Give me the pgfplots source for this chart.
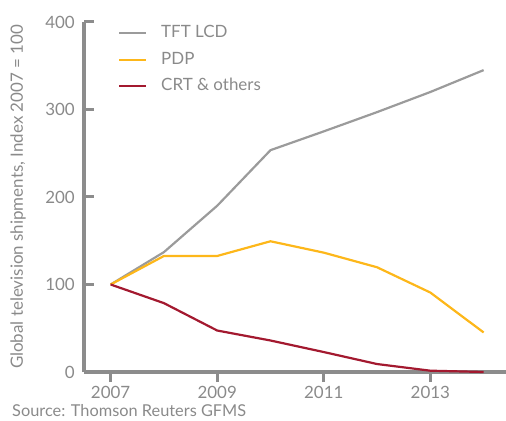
\documentclass[border=0pt]{standalone}
\usepackage{pgfplots}
\pgfplotsset{compat=1.18}
\usepackage{fontspec}
\setmainfont{Lato}

\definecolor{axisgray}{HTML}{8C8C8C}
\definecolor{txtgray}{HTML}{8A8A8A}
\definecolor{tftgray}{HTML}{9B9B9B}
\definecolor{pdpyellow}{HTML}{FDB71A}
\definecolor{crtred}{HTML}{A3192F}

\begin{document}
\fontsize{17}{20}\selectfont
\begin{tikzpicture}
\useasboundingbox (0,0) rectangle (506bp,421bp);
\begin{axis}[
    at={(84bp,49bp)}, anchor=south west,
    scale only axis,
    width=422bp, height=350bp,
    xmin=2006.5, xmax=2014.42,
    ymin=0, ymax=400,
    axis x line=bottom, axis y line=left,
    axis line style={draw=axisgray, line width=3bp, -},
    xtick={2007,2009,2011,2013},
    ytick={0,100,200,300,400},
    /pgf/number format/assume math mode=true,
    tick align=inside,
    major tick length=10bp,
    tick style={draw=axisgray, line width=3bp},
    x tick style={yshift=-10bp},
    ticklabel style={text=txtgray, inner sep=0pt, font=\fontsize{17}{20}\selectfont},
    xticklabel style={/pgf/number format/1000 sep={}, anchor=base, yshift=-26bp},
    yticklabel style={anchor=east, xshift=-9bp},
    ylabel={Global television shipments, Index 2007 = 100},
    ylabel style={at={(axis description cs:-0.156,0.5)}, anchor=center,
                  text=txtgray, font=\fontsize{17}{20}\selectfont},
    legend style={at={(axis description cs:0.0806,0.995)}, anchor=north west,
                  draw=none, fill=none, text=txtgray, inner sep=0pt,
                  font=\fontsize{17}{20}\selectfont,
                  nodes={inner sep=2bp, text height=12bp, text depth=3bp},
                  row sep=7.5bp, column sep=12bp},
    legend cell align=left,
    legend image code/.code={\draw[#1, line width=2bp] (0bp,0bp) -- (27bp,0bp);},
    clip=false,
]

% TFT LCD
\addplot[color=tftgray, line width=2.2bp] coordinates {
    (2007,100) (2008,137) (2009,190) (2010,253.5) (2011,275)
    (2012,297) (2013,320) (2014,345)
};

% PDP
\addplot[color=pdpyellow, line width=2.2bp] coordinates {
    (2007,100) (2008,132.6) (2009,132.6) (2010,149.4) (2011,136.4)
    (2012,119.7) (2013,90.8) (2014,45.2)
};

% CRT & others
\addplot[color=crtred, line width=2.2bp] coordinates {
    (2007,100) (2008,78.7) (2009,47.4) (2010,36) (2011,22.8)
    (2012,9.1) (2013,1.5) (2014,0)
};

\legend{TFT LCD, PDP, CRT \& others}
\end{axis}
\node[anchor=base west, inner sep=0, text=txtgray, font=\fontsize{16.4}{19}\selectfont]
    at (12bp,5bp) {Source: Thomson Reuters GFMS};
\end{tikzpicture}
\end{document}
